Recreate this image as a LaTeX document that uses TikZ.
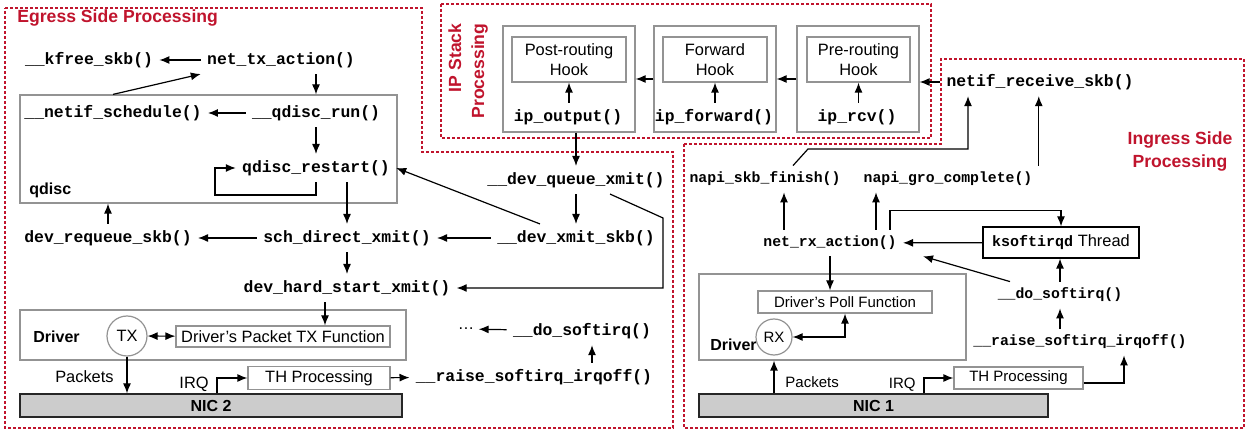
\documentclass[tikz,border=0pt]{standalone}
\usepackage{fontspec}
\setmainfont{Liberation Sans}
\setmonofont{Liberation Mono}
\usetikzlibrary{arrows.meta}

\definecolor{regred}{RGB}{192,20,45}
\tikzstyle{region}=[draw=regred,dash pattern=on 1.5pt off 1pt,line width=0.6pt]
\tikzstyle{title}=[font=\bfseries\fontsize{8.8}{11.5}\selectfont,text=regred,inner sep=0pt]
\tikzstyle{fn}=[font=\ttfamily\bfseries\fontsize{8.2}{10}\selectfont,inner sep=3pt]
\tikzstyle{fnsmall}=[font=\ttfamily\bfseries\fontsize{7.4}{9}\selectfont,inner sep=3pt]
\tikzstyle{lbl}=[font=\bfseries\fontsize{8}{10}\selectfont,inner sep=2pt]
\tikzstyle{txt}=[font=\fontsize{8.2}{10}\selectfont,inner sep=2pt]
\tikzstyle{txtsmall}=[font=\fontsize{7.5}{9}\selectfont,inner sep=2pt]
\tikzstyle{box}=[draw=gray!85,line width=0.6pt,inner sep=0pt]
\tikzstyle{nic}=[draw=black!85,fill=gray!40,line width=0.6pt,inner sep=0pt,font=\bfseries\fontsize{8}{10}\selectfont]
\tikzstyle{port}=[circle,draw=gray!85,line width=0.6pt,inner sep=0pt]
\tikzstyle{arr}=[-{Latex[length=5pt,width=4pt]},line width=0.6pt]
\tikzstyle{dbl}=[{Latex[length=5pt,width=4pt]}-{Latex[length=5pt,width=4pt]},line width=0.6pt]

\begin{document}
\begin{tikzpicture}[x=0.5pt,y=-0.5pt]
\useasboundingbox (0,0) rectangle (1252,432);

% regions
\draw[region] (5,8) -- (422,8) -- (422,152) -- (673,152) -- (673,428) -- (5,428) -- cycle;
\draw[region] (441,4) rectangle (931,138);
\draw[region] (684,144) -- (941,144) -- (941,59) -- (1244,59) -- (1244,428) -- (684,428) -- cycle;

% egress side
\node (egtitle) at (17,18) [title,anchor=west] {Egress Side Processing};
\node (qdisc) at (208.5,149) [box,minimum width=188.5pt,minimum height=54pt] {};
\node (qdisclbl) at (25,190) [lbl,anchor=west] {qdisc};
\node (kfree) at (89,60) [fn] {\_\_kfree\_skb()};
\node (ntx) at (281,60) [fn] {net\_tx\_action()};
\node (nsched) at (113,113) [fn] {\_\_netif\_schedule()};
\node (qrun) at (316,113) [fn] {\_\_qdisc\_run()};
\node (qrst) at (316,168) [fn] {qdisc\_restart()};
\node (requeue) at (108,238) [fn] {dev\_requeue\_skb()};
\node (sdx) at (347,238) [fn] {sch\_direct\_xmit()};
\node (dhsx) at (347,288) [fn] {dev\_hard\_start\_xmit()};
\node (dqx) at (576,180) [fn] {\_\_dev\_queue\_xmit()};
\node (dxs) at (576,238) [fn] {\_\_dev\_xmit\_skb()};
\node (drvtx) at (213,335) [box,minimum width=193pt,minimum height=25pt] {};
\node (drvtxlbl) at (29,337) [lbl,anchor=west] {Driver};
\node (tx) at (127,336) [port,minimum size=20pt,txt] {TX};
\node (txfn) at (283,336.5) [box,minimum width=107pt,minimum height=10.5pt,txt] {Driver’s Packet TX Function};
\node (nic2) at (211,405.5) [nic,minimum width=191pt,minimum height=11.5pt] {NIC 2};
\node (pkttx) at (118,377) [txt,anchor=east] {Packets};
\node (irqtx) at (213,384) [txt,anchor=east] {IRQ};
\node (thtx) at (319,378) [box,minimum width=71pt,minimum height=11pt,txt] {TH Processing};
\node (raisetx) at (534,377) [fn] {\_\_raise\_softirq\_irqoff()};
\node (dosofttx) at (582,331) [fn] {\_\_do\_softirq()};
\node (dots) at (466,329) [txt] {\dots};

\draw[arr] (ntx) -- (kfree);
\draw[arr] (ntx.south -| qrun) -- (qdisc.north -| qrun);
\draw[arr] (qdisc.north -| nsched) -- (ntx.south west);
\draw[arr] (qrun) -- (nsched);
\draw[arr] (qrun) -- (qrst);
\draw[arr] (qrst.south) |- (215,195) |- (qrst.west);
\draw[arr] (qrst.south -| sdx.north) -- (sdx.north);
\draw[arr] (sdx) -- (requeue);
\draw[arr] (requeue.north) -- (requeue.north |- qdisc.south);
\draw[arr] (sdx) -- (dhsx);
\draw[arr] (dqx) -- (dxs);
\draw[arr] (dxs) -- (sdx);
\draw[arr] ([xshift=-18pt]dxs.north) -- (qrst.east);
\draw[arr] ([xshift=17pt]dqx.south) -- (663,218) |- (dhsx.east);
\draw[arr] ([xshift=-11pt]dhsx.south) -- ([xshift=-11pt]dhsx.south |- txfn.north);
\draw[dbl] (tx) -- (txfn);
\draw[arr] (tx) -- (tx |- nic2.north);
\draw[arr] ([xshift=2pt]irqtx.east |- nic2.north) |- (thtx.west);
\draw[arr] (thtx) -- (raisetx);
\draw[arr] ([xshift=5pt]dosofttx.south |- raisetx.north) -- ([xshift=5pt]dosofttx.south);
\draw[arr] (dosofttx) -- (dots);

% ip stack
\node (iptitle) at (468,71) [title,rotate=90,align=right] {IP Stack\\Processing};
\node (postbox) at (569,79) [box,minimum width=66pt,minimum height=53pt] {};
\node (posthook) at (569,59.5) [box,minimum width=57pt,minimum height=22.5pt,txt,align=center] {Post-routing\\Hook};
\node (ipout) at (568,117) [fn] {ip\_output()};
\node (fwdbox) at (715,79) [box,minimum width=61pt,minimum height=53pt] {};
\node (fwdhook) at (715,59.5) [box,minimum width=52pt,minimum height=22.5pt,txt,align=center] {Forward\\Hook};
\node (ipfwd) at (714,117) [fn] {ip\_forward()};
\node (prebox) at (858,79) [box,minimum width=61pt,minimum height=53pt] {};
\node (prehook) at (858.5,59.5) [box,minimum width=51.5pt,minimum height=22.5pt,txt,align=center] {Pre-routing\\Hook};
\node (iprcv) at (857,117) [fn] {ip\_rcv()};

\draw[arr] (ipout.north -| posthook.south) -- (posthook.south);
\draw[arr] (ipfwd.north -| fwdhook.south) -- (fwdhook.south);
\draw[arr] (iprcv.north -| prehook.south) -- (prehook.south);
\draw[arr] (prebox) -- (fwdbox);
\draw[arr] (fwdbox) -- (postbox);
\draw[arr] (postbox.south -| dqx) -- (dqx);

% ingress side
\node (intitle) at (1180,151) [title,align=center] {Ingress Side\\Processing};
\node (nrs) at (1040,82) [fn] {netif\_receive\_skb()};
\node (nsf) at (765,179) [fnsmall] {napi\_skb\_finish()};
\node (ngc) at (948,179) [fnsmall] {napi\_gro\_complete()};
\node (nrx) at (830,243) [fnsmall] {net\_rx\_action()};
\node (ksd) at (1061,242.5) [draw,line width=0.6pt,minimum width=78pt,minimum height=15.5pt,txt] {{\ttfamily\bfseries\fontsize{7.5}{9}\selectfont ksoftirqd} Thread};
\node (dosoftrx) at (1060,295) [fnsmall] {\_\_do\_softirq()};
\node (raiserx) at (1080,342) [fnsmall] {\_\_raise\_softirq\_irqoff()};
\node (drvrx) at (832.5,317) [box,minimum width=133.5pt,minimum height=43pt] {};
\node (pollfn) at (845,302) [box,minimum width=87pt,minimum height=11pt,txtsmall] {Driver’s Poll Function};
\node (drvrxlbl) at (706,345) [lbl,anchor=west] {Driver};
\node (rx) at (774,337) [port,minimum size=18pt,txtsmall] {RX};
\node (nic1) at (873.5,405.5) [nic,minimum width=174.5pt,minimum height=11.5pt] {NIC 1};
\node (pktrx) at (781,382) [txtsmall,anchor=west] {Packets};
\node (irqrx) at (920,385) [txtsmall,anchor=east] {IRQ};
\node (thrx) at (1018.5,378) [box,minimum width=64.5pt,minimum height=11pt,txtsmall] {TH Processing};

\draw[arr] (nrs.west) -- (nrs.west -| prebox.east);
\draw[arr] ([xshift=14pt]nsf.north) -- (808,149) -| ([xshift=-36pt]nrs.south);
\draw[arr] (ngc.north east) -- (ngc.north east |- nrs.south);
\draw[arr] ([xshift=-23pt]nrx.north) -- ([xshift=-23pt]nrx.north |- nsf.south);
\draw[arr] ([xshift=23pt]nrx.north) -- ([xshift=23pt]nrx.north |- ngc.south);
\draw[arr] ([xshift=30pt]nrx.north) -- ++(0,-19) -| (ksd.north);
\draw[arr] (ksd) -- (nrx);
\draw[arr] ([xshift=-25pt]dosoftrx.north) -- ([xshift=10pt]nrx.south east);
\draw[arr] (dosoftrx) -- (dosoftrx |- ksd.south);
\draw[arr] (raiserx.north -| dosoftrx) -- (dosoftrx);
\draw[arr] (nrx) -- (nrx |- pollfn.north);
\draw[dbl] (rx) -| (pollfn.south);
\draw[arr] (rx |- nic1.north) -- (rx |- drvrx.south);
\draw[arr] ([xshift=2pt]irqrx.east |- nic1.north) |- (thrx.west);
\draw[arr] ([yshift=-2.5pt]thrx.east) -| ([xshift=22pt]raiserx.south);
\end{tikzpicture}
\end{document}
